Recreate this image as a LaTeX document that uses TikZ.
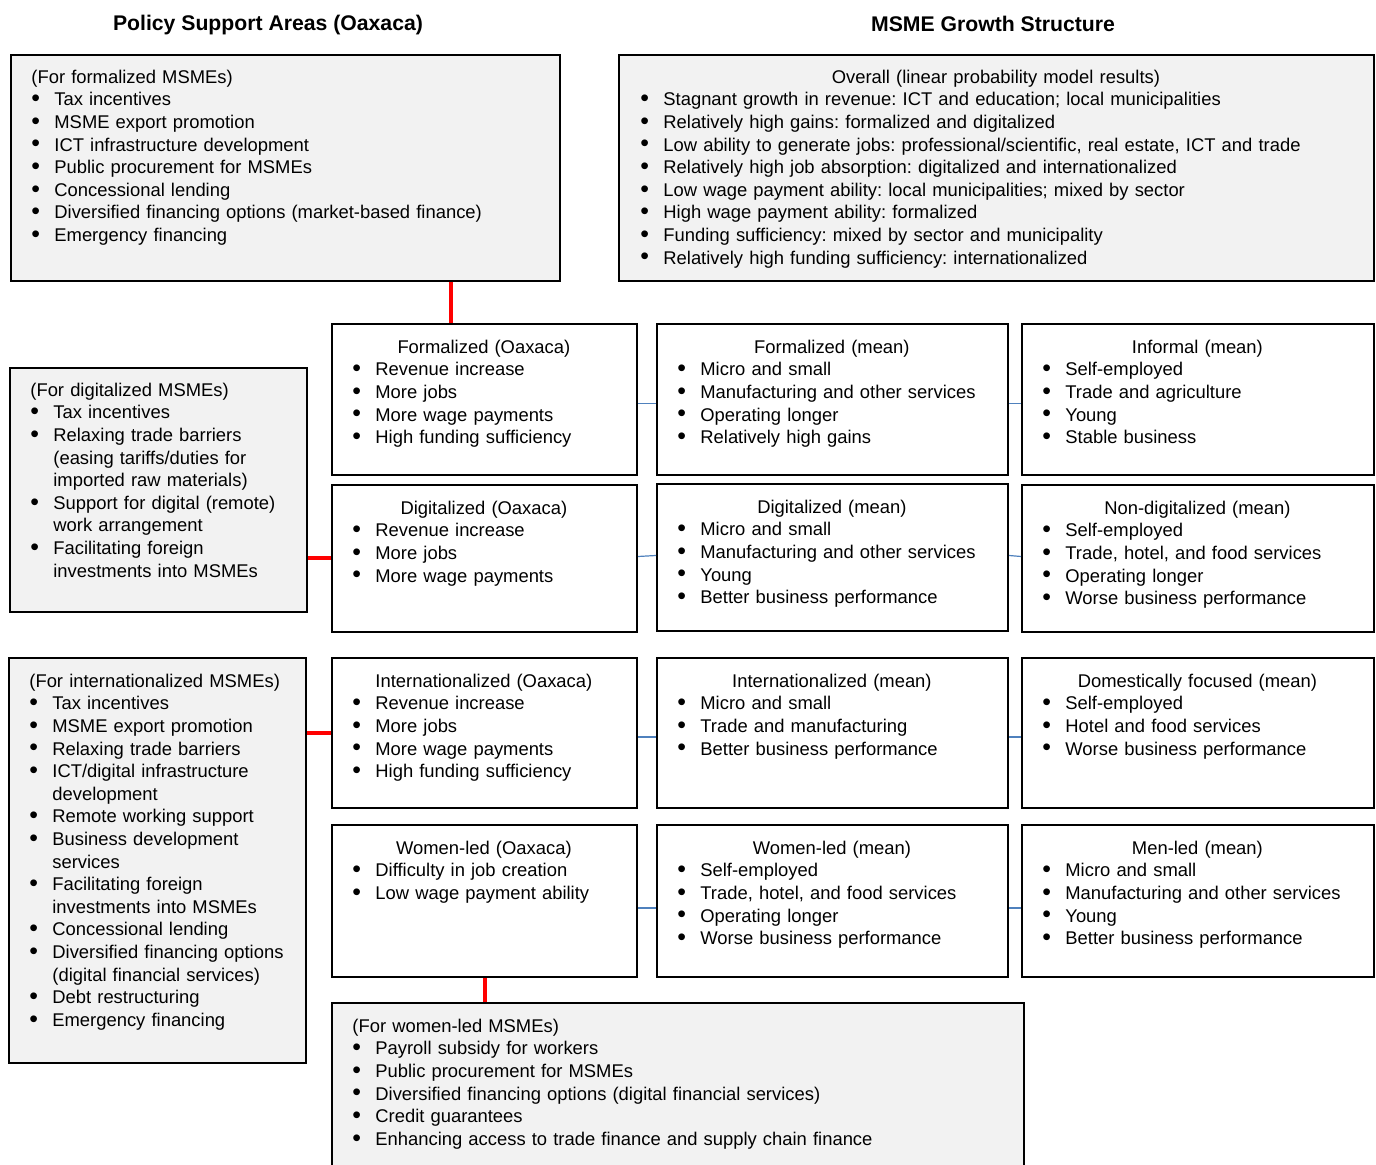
\documentclass[tikz,border=0pt]{standalone}
\usepackage{fontspec}
\setmainfont{Liberation Sans}
\usetikzlibrary{fit}
\definecolor{boxgray}{RGB}{242,242,242}
\definecolor{linkblue}{RGB}{79,129,189}
\frenchspacing
\hyphenpenalty=10000
\tikzstyle{polbox}=[draw,line width=1pt,fill=boxgray,inner sep=0pt]
\tikzstyle{grbox}=[draw,line width=1pt,inner sep=0pt]
\tikzstyle{txt}=[anchor=north west,align=left,inner sep=0pt,font=\fontsize{9.2pt}{11.3pt}\selectfont]
\tikzstyle{title}=[anchor=base,font=\fontsize{10.6pt}{12pt}\selectfont\bfseries]
\tikzstyle{redlink}=[draw,red,line width=2pt]
\tikzstyle{bluelink}=[draw,linkblue,line width=0.6pt]
\newcommand{\bul}{\makebox[11.5pt][l]{\raisebox{-0.4pt}{\scalebox{1.35}{\textbullet}}}}
\newcommand{\cont}{\hspace*{11.5pt}}
\newcommand{\hd}[1]{\makebox[\hsize]{\strut#1}}

\begin{document}
\begin{tikzpicture}[x=0.5pt,y=-0.5pt]
    \useasboundingbox (0,0) rectangle (1376,1165);
    % Titles
    \node[title] (poltitle) at (268,31) {Policy Support Areas (Oaxaca)};
    \node[title] (msmetitle) at (993,32) {MSME Growth Structure};
    % Policy boxes (grey)
    \node[polbox, fit={(11,55) (560,281)}] (formpol) {};
    \node[polbox, fit={(619,55) (1374,281)}] (overall) {};
    \node[polbox, fit={(10,368) (307,612)}] (digpol) {};
    \node[polbox, fit={(9,658) (306,1063)}] (intpol) {};
    \node[polbox, fit={(332,1003) (1024,1175)}] (wompol) {};
    % Growth structure boxes
    \foreach \name/\xa/\xb/\ya/\yb in {formoax/332/637/324/475, formmean/657/1008/324/475, informal/1022/1374/324/475,
        digoax/332/637/485/632, digmean/657/1008/484/631, nondig/1022/1374/485/632,
        intoax/332/637/658/808, intmean/657/1008/658/808, domestic/1022/1374/658/808,
        womoax/332/637/825/977, wommean/657/1008/825/977, menmean/1022/1374/825/977}
        \node[grbox, fit={(\xa,\ya) (\xb,\yb)}] (\name) {};

    % Texts of the policy boxes
    \node[txt, text width=253pt] (formpolt) at ([shift={(21,13)}]formpol.north west)
        {\strut(For formalized MSMEs)\\ \bul Tax incentives\\ \bul MSME export promotion\\
         \bul ICT infrastructure development\\ \bul Public procurement for MSMEs\\ \bul Concessional lending\\
         \bul Diversified financing options (market-based finance)\\ \bul Emergency financing};
    \node[txt, text width=355.5pt] (overallt) at ([shift={(22,13)}]overall.north west)
        {\hd{Overall (linear probability model results)}\\
         \bul Stagnant growth in revenue: ICT and education; local municipalities\\
         \bul Relatively high gains: formalized and digitalized\\
         \bul Low ability to generate jobs: professional/scientific, real estate, ICT and trade\\
         \bul Relatively high job absorption: digitalized and internationalized\\
         \bul Low wage payment ability: local municipalities; mixed by sector\\
         \bul High wage payment ability: formalized\\
         \bul Funding sufficiency: mixed by sector and municipality\\
         \bul Relatively high funding sufficiency: internationalized};
    \node[txt, text width=135pt] (digpolt) at ([shift={(21,13)}]digpol.north west)
        {\strut(For digitalized MSMEs)\\ \bul Tax incentives\\ \bul Relaxing trade barriers\\
         \cont(easing tariffs/duties for\\ \cont imported raw materials)\\
         \bul Support for digital (remote)\\ \cont work arrangement\\
         \bul Facilitating foreign\\ \cont investments into MSMEs};
    \node[txt, text width=135pt] (intpolt) at ([shift={(21,14)}]intpol.north west)
        {\strut(For internationalized MSMEs)\\ \bul Tax incentives\\ \bul MSME export promotion\\
         \bul Relaxing trade barriers\\ \bul ICT/digital infrastructure\\ \cont development\\
         \bul Remote working support\\ \bul Business development\\ \cont services\\
         \bul Facilitating foreign\\ \cont investments into MSMEs\\ \bul Concessional lending\\
         \bul Diversified financing options\\ \cont(digital financial services)\\
         \bul Debt restructuring\\ \bul Emergency financing};
    \node[txt, text width=320pt] (wompolt) at ([shift={(21,14)}]wompol.north west)
        {\strut(For women-led MSMEs)\\ \bul Payroll subsidy for workers\\ \bul Public procurement for MSMEs\\
         \bul Diversified financing options (digital financial services)\\ \bul Credit guarantees\\
         \bul Enhancing access to trade finance and supply chain finance};

    % Texts of the growth structure boxes
    \node[txt, text width=131.5pt] (formoaxt) at ([shift={(21,14)}]formoax.north west)
        {\hd{Formalized (Oaxaca)}\\ \bul Revenue increase\\ \bul More jobs\\ \bul More wage payments\\ \bul High funding sufficiency};
    \node[txt, text width=154.5pt] (formmeant) at ([shift={(21,14)}]formmean.north west)
        {\hd{Formalized (mean)}\\ \bul Micro and small\\ \bul Manufacturing and other services\\ \bul Operating longer\\ \bul Relatively high gains};
    \node[txt, text width=155pt] (informalt) at ([shift={(21,14)}]informal.north west)
        {\hd{Informal (mean)}\\ \bul Self-employed\\ \bul Trade and agriculture\\ \bul Young\\ \bul Stable business};
    \node[txt, text width=131.5pt] (digoaxt) at ([shift={(21,14)}]digoax.north west)
        {\hd{Digitalized (Oaxaca)}\\ \bul Revenue increase\\ \bul More jobs\\ \bul More wage payments};
    \node[txt, text width=154.5pt] (digmeant) at ([shift={(21,14)}]digmean.north west)
        {\hd{Digitalized (mean)}\\ \bul Micro and small\\ \bul Manufacturing and other services\\ \bul Young\\ \bul Better business performance};
    \node[txt, text width=155pt] (nondigt) at ([shift={(21,14)}]nondig.north west)
        {\hd{Non-digitalized (mean)}\\ \bul Self-employed\\ \bul Trade, hotel, and food services\\ \bul Operating longer\\ \bul Worse business performance};
    \node[txt, text width=131.5pt] (intoaxt) at ([shift={(21,14)}]intoax.north west)
        {\hd{Internationalized (Oaxaca)}\\ \bul Revenue increase\\ \bul More jobs\\ \bul More wage payments\\ \bul High funding sufficiency};
    \node[txt, text width=154.5pt] (intmeant) at ([shift={(21,14)}]intmean.north west)
        {\hd{Internationalized (mean)}\\ \bul Micro and small\\ \bul Trade and manufacturing\\ \bul Better business performance};
    \node[txt, text width=155pt] (domestict) at ([shift={(21,14)}]domestic.north west)
        {\hd{Domestically focused (mean)}\\ \bul Self-employed\\ \bul Hotel and food services\\ \bul Worse business performance};
    \node[txt, text width=131.5pt] (womoaxt) at ([shift={(21,14)}]womoax.north west)
        {\hd{Women-led (Oaxaca)}\\ \bul Difficulty in job creation\\ \bul Low wage payment ability};
    \node[txt, text width=154.5pt] (wommeant) at ([shift={(21,14)}]wommean.north west)
        {\hd{Women-led (mean)}\\ \bul Self-employed\\ \bul Trade, hotel, and food services\\ \bul Operating longer\\ \bul Worse business performance};
    \node[txt, text width=155pt] (menmeant) at ([shift={(21,14)}]menmean.north west)
        {\hd{Men-led (mean)}\\ \bul Micro and small\\ \bul Manufacturing and other services\\ \bul Young\\ \bul Better business performance};

    % Red links from the policy boxes
    \coordinate (redx) at (451,0);
    \path[redlink] (formpol.south -| redx) -- (formoax.north -| redx);
    \path[redlink] (digpol.east |- digoax.west) -- (digoax.west);
    \path[redlink] (intpol.east |- intoax.west) -- (intoax.west);
    \path[redlink] (womoax.south) -- (womoax.south |- wompol.north);
    % Blue links between the rows
    \foreach \source/\dest/\dy in {formoax/formmean/4, formmean/informal/4, digoax/digmean/-2, digmean/nondig/-2,
        intoax/intmean/4, intmean/domestic/4, womoax/wommean/7, wommean/menmean/7}
        \path[bluelink] ([shift={(0,\dy)}]\source.east) -- ([shift={(0,\dy)}]\dest.west);
\end{tikzpicture}
\end{document}
